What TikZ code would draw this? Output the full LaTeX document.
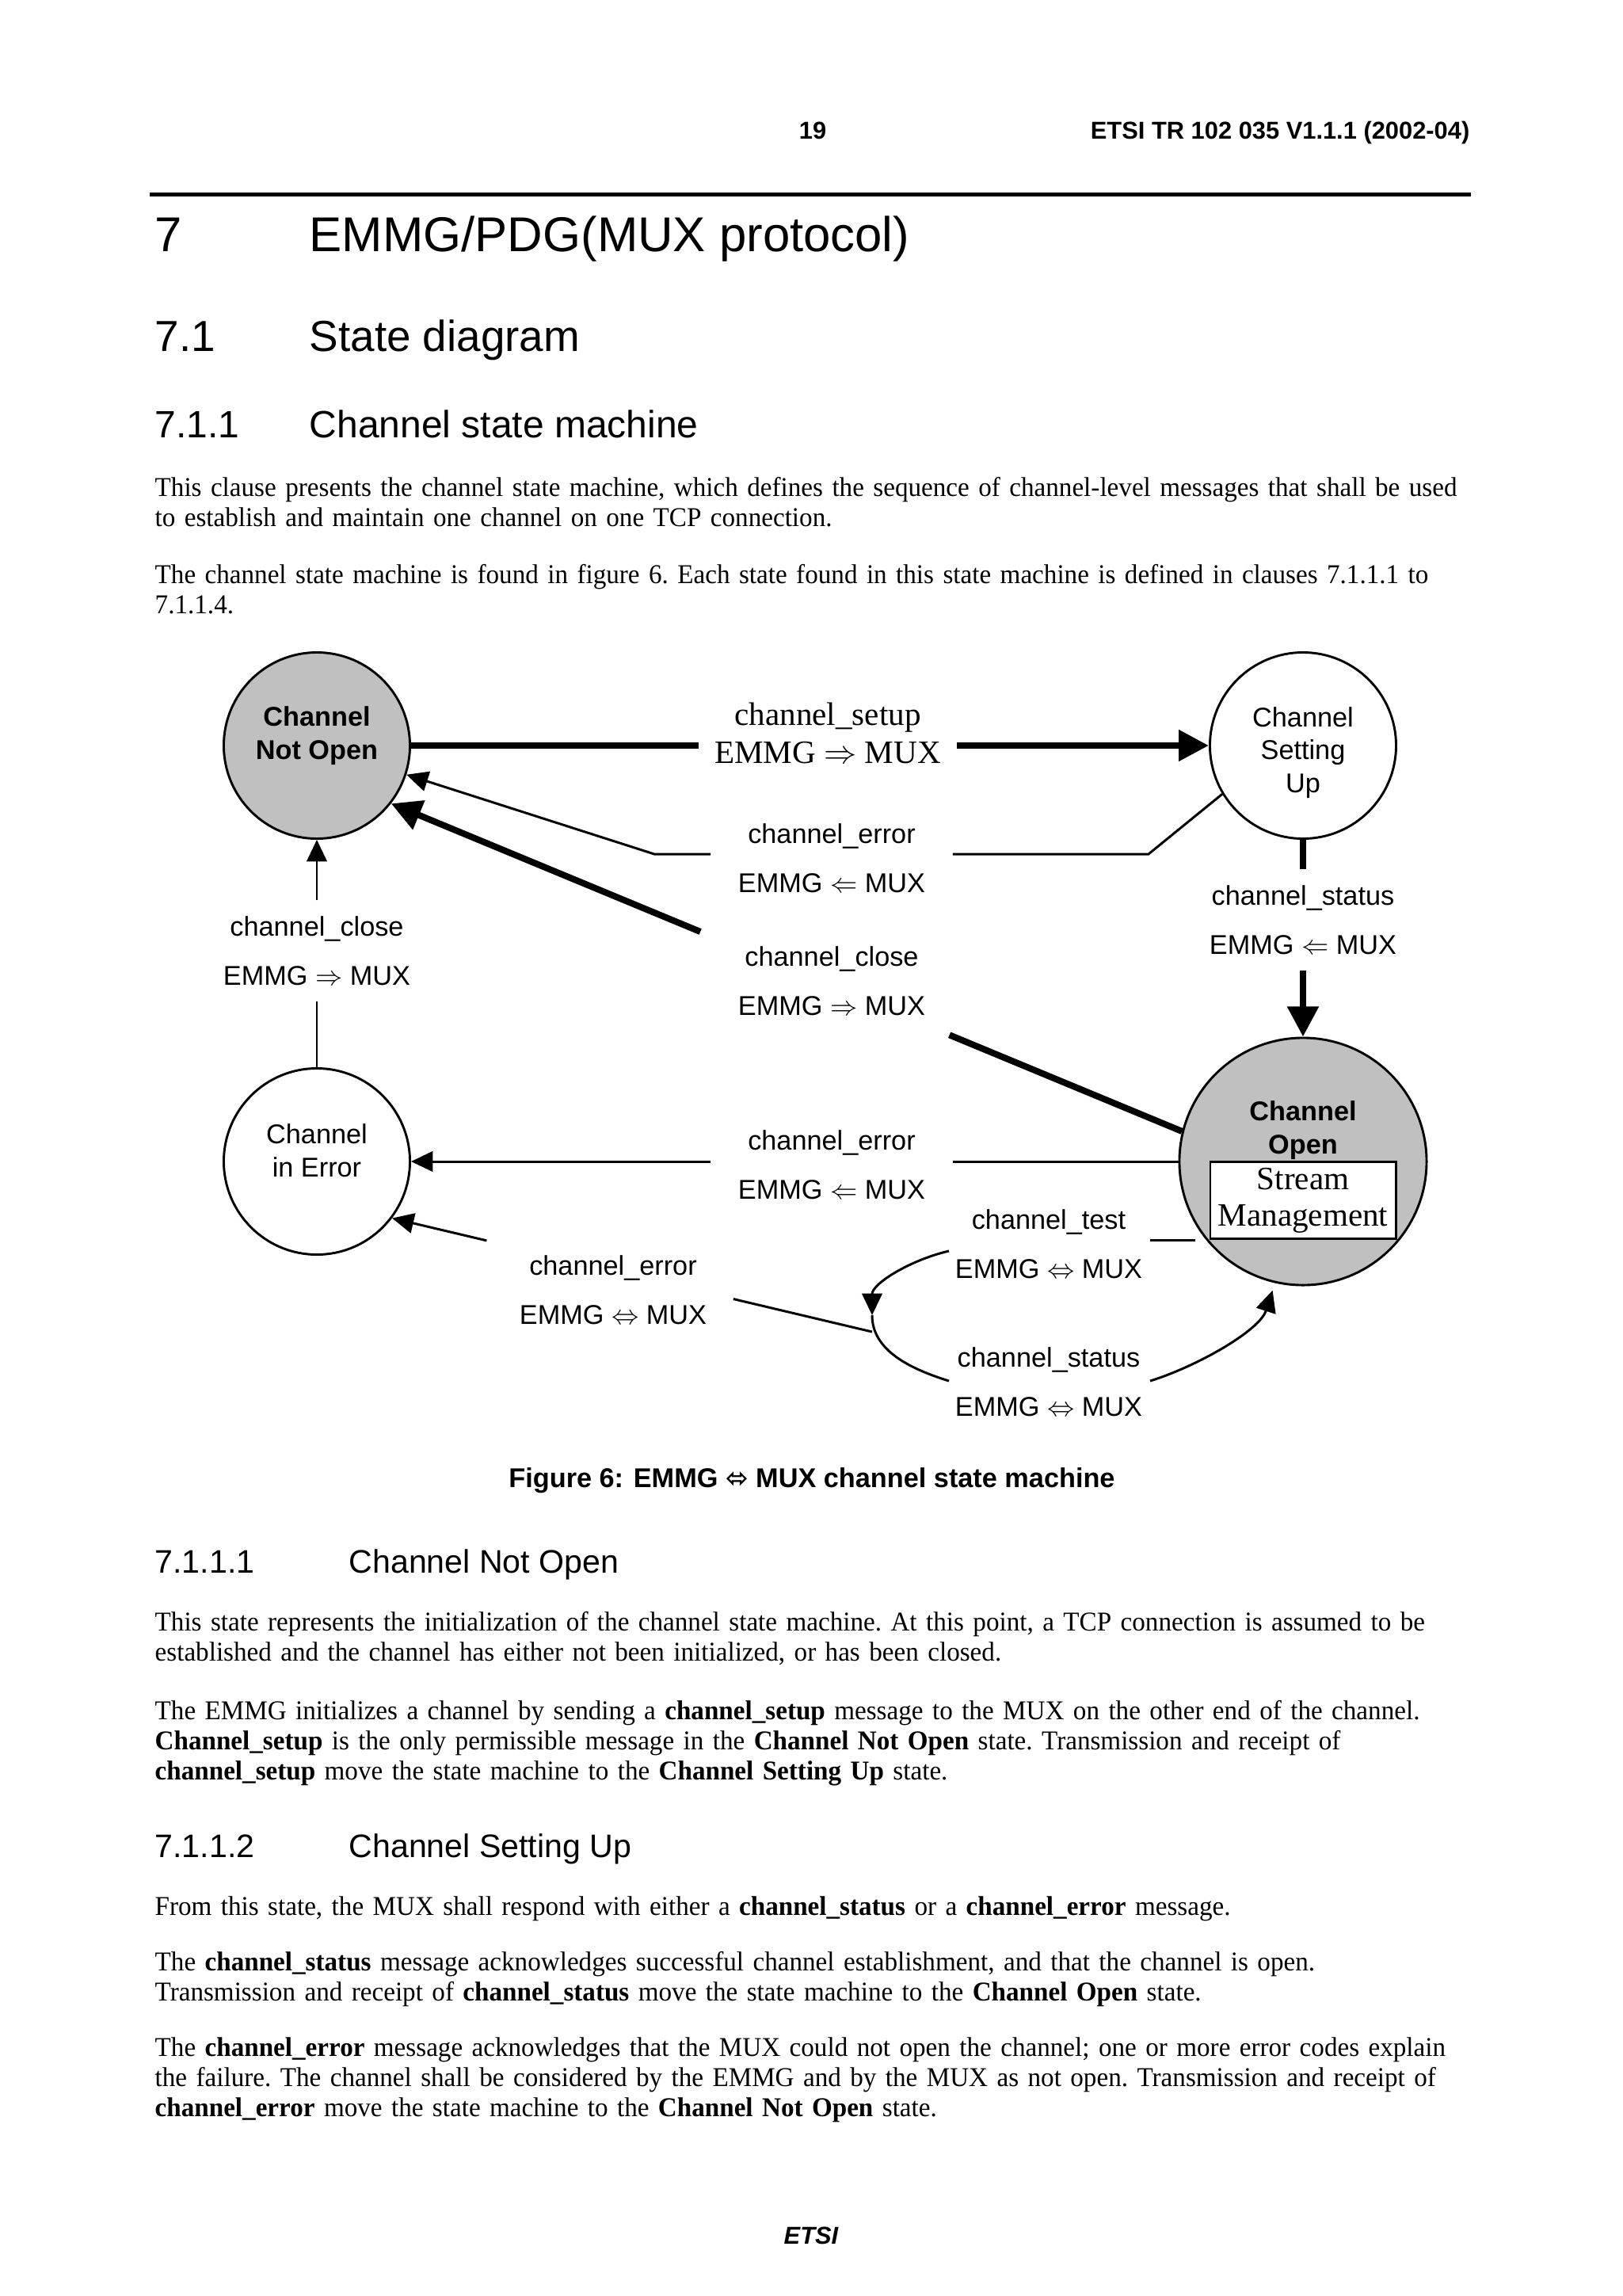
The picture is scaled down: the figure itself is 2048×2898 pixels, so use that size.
\documentclass[tikz,border=0pt]{standalone}
\usepackage{amsmath}
\usepackage{fontspec}
\setmainfont{Liberation Serif}
\setsansfont{Liberation Sans}
\newfontfamily\bodyfont[FakeStretch=0.967]{Liberation Serif}
\newfontfamily\arrowfont{DejaVu Sans}
\usepackage{tikz}
\usetikzlibrary{arrows.meta,calc,positioning}
\definecolor{stategray}{RGB}{192,192,192}

\begin{document}
\begin{tikzpicture}[x=0.10254mm,y=-0.10254mm]
	\def \leftmargin{195}
	\def \headx{390}
	\def \subheadx{440}
	\tikzstyle{s-node}=[circle,draw,line width=0.85pt,minimum size=24.1mm,inner sep=0pt]
	\tikzstyle{o-node}=[s-node,minimum size=32mm]
	\tikzstyle{n-node}=[font=\sffamily\fontsize{10}{12.2}\selectfont,align=center,inner sep=0pt]
	\tikzstyle{nb-node}=[n-node,font=\sffamily\bfseries\fontsize{10}{12.2}\selectfont]
	\tikzstyle{m-node}=[font=\sffamily\fontsize{10}{18}\selectfont,align=center,inner xsep=3.5mm,inner ysep=2mm]
	\tikzstyle{mt-node}=[font=\fontsize{12}{14}\selectfont,align=center,inner xsep=2mm,inner ysep=1mm]
	\tikzstyle{thin-line}=[line width=0.87pt]
	\tikzstyle{thick-line}=[line width=2.35pt]
	\tikzstyle{thin-arr}=[thin-line,-{Triangle[length=2.8mm,width=2.6mm]}]
	\tikzstyle{thick-arr}=[thick-line,-{Triangle[length=3.9mm,width=3.9mm]}]
	\tikzstyle{head}=[anchor=base west,inner sep=0pt]
	\tikzstyle{body}=[anchor=base west,inner sep=0pt,text width=178mm,align=left,font=\bodyfont\frenchspacing\fontsize{10}{11.2}\selectfont]
	% page
	\path[fill=white,use as bounding box] (0,0) rectangle (2048,2898);

	% running header
	\node[anchor=base,inner sep=0pt,font=\sffamily\bfseries\fontsize{9}{11}\selectfont] (pageno) at (1026,175) {19};
	\node[anchor=base east,inner sep=0pt,font=\sffamily\bfseries\fontsize{9}{11}\selectfont] (docref) at (1856,175) {ETSI TR 102 035 V1.1.1 (2002-04)};
	\coordinate (ruleL) at (189,245.5);
	\coordinate (ruleR) at (1857,245.5);
	\draw[line width=1.6pt] (ruleL) -- (ruleR);

	% headings
	\node[head,font=\sffamily\fontsize{18}{22}\selectfont] (h1num) at (\leftmargin,317) {7};
	\node[head,font=\sffamily\fontsize{18}{22}\selectfont] (h1txt) at (\headx,317) {EMMG/PDG(MUX protocol)};
	\node[head,font=\sffamily\fontsize{16}{19}\selectfont] (h2num) at (\leftmargin,443) {7.1};
	\node[head,font=\sffamily\fontsize{16}{19}\selectfont] (h2txt) at (\headx,443) {State diagram};
	\node[head,font=\sffamily\fontsize{14}{17}\selectfont] (h3num) at (\leftmargin,552) {7.1.1};
	\node[head,font=\sffamily\fontsize{14}{17}\selectfont] (h3txt) at (\headx,552) {Channel state machine};

	% text before the figure
	\node[body] (para1) at (\leftmargin,626) {This clause presents the channel state machine, which defines the sequence of channel-level messages that shall be used\\
		to establish and maintain one channel on one TCP connection.};
	\node[body] (para2) at (\leftmargin,736) {The channel state machine is found in figure 6. Each state found in this state machine is defined in clauses 7.1.1.1 to\\
		7.1.1.4.};

	% states
	\node[s-node,fill=stategray] 	(cno)	at (400,941)	{};
	\node[s-node] 			(csu)	at (1645,941)	{};
	\node[s-node] 			(cie)	at (400,1466)	{};
	\node[o-node,fill=stategray] 	(co)	at (1645,1466)	{};
	\node[nb-node]	(cnotxt)	at (400,929)	{Channel\\Not Open};
	\node[n-node]	(csutxt)	at (1645,950)	{Channel\\Setting\\Up};
	\node[n-node]	(cietxt)	at (400,1452)	{Channel\\in Error};
	\node[nb-node]	(cotxt)	at (1645,1427)	{Channel\\Open};
	\node[draw,fill=white,line width=0.85pt,minimum width=24mm,minimum height=9.95mm,inner sep=0.5mm,align=center,font=\fontsize{12}{13.4}\selectfont] (stream) at (1645,1515) {Stream\\Management};

	% messages
	\node[mt-node]	(lsetup)	at (1045,925)	{channel\_setup\\EMMG $\Rightarrow$ MUX};
	\node[m-node]	(lerr1)	at (1050,1083)	{channel\_error\\EMMG $\Leftarrow$ MUX};
	\node[m-node]	(lclose1)	at (1050,1238)	{channel\_close\\EMMG $\Rightarrow$ MUX};
	\node[m-node]	(lerr2)	at (1050,1470)	{channel\_error\\EMMG $\Leftarrow$ MUX};
	\node[m-node]	(lclose2)	at (400,1200)	{channel\_close\\EMMG $\Rightarrow$ MUX};
	\node[m-node]	(lstat1)	at (1645,1161)	{channel\_status\\EMMG $\Leftarrow$ MUX};
	\node[m-node]	(lerr3)	at (774,1628)	{channel\_error\\EMMG $\Leftrightarrow$ MUX};
	\node[m-node]	(ltest)	at (1324,1570)	{channel\_test\\EMMG $\Leftrightarrow$ MUX};
	\node[m-node]	(lstat2)	at (1324,1744)	{channel\_status\\EMMG $\Leftrightarrow$ MUX};

	% bends of the thin connectors
	\coordinate (e1up) at (1450,1078);
	\coordinate (e1dn) at (826,1078);
	\coordinate (tbeg) at (1198,1579);
	\coordinate (tip) at (1101,1660);
	\coordinate (sbeg) at (1198,1743);
	\coordinate (send) at (1452,1743);
	\coordinate (junct) at (1101,1681);

	% channel_setup
	\draw[thick-line] (cno.east) -- (cno.east -| lsetup.west);
	\draw[thick-arr] (lsetup.east |- csu.west) -- (csu.west);
	% channel_error from setting up
	\draw[thin-line] (csu.-149) -- (e1up) -- (e1up -| lerr1.east);
	\draw[thin-arr] (lerr1.west |- e1dn) -- (e1dn) -- (cno.-18);
	% channel_close from open
	\draw[thick-line] (co.166) -- ($(co.166)!0.294!(cno.-38)$);
	\draw[thick-arr] ($(co.166)!0.609!(cno.-38)$) -- (cno.-38);
	% channel_close from error
	\draw[thin-line] (cie.north) -- (lclose2.south);
	\draw[thin-arr] (lclose2.north) -- (cno.south);
	% channel_status from setting up
	\draw[thick-line] (csu.south) -- (lstat1.north);
	\draw[thick-arr] (lstat1.south) -- (co.north);
	% channel_error from open
	\draw[thin-line] (co.west) -- (co.west -| lerr2.east);
	\draw[thin-arr] (lerr2.west |- cie.east) -- (cie.east);
	% channel_test / channel_status loop
	\draw[thin-line,shorten <=1.4mm] (co.-141.5) -- (send |- co.-141.5);
	\draw[thin-arr] (tbeg) .. controls (1150,1590) and (1101,1620) .. (tip);
	\draw[thin-line] (tip) .. controls (1101,1705) and (1150,1728) .. (sbeg);
	\draw[thin-arr,shorten >=1mm] (send) .. controls (1510,1725) and (1590,1680) .. (co.-103);
	% channel_error from the loop
	\draw[thin-line] (junct) -- ($(junct)!0.289!(cie.-37.5)$);
	\draw[thin-arr] ($(junct)!0.803!(cie.-37.5)$) -- (cie.-37.5);

	% caption
	\node[anchor=base,inner sep=0pt,font=\sffamily\bfseries\fontsize{10}{12}\selectfont] (caption) at (1025,1877) {Figure 6: EMMG {\arrowfont ⬄} MUX channel state machine};

	% 7.1.1.1
	\node[head,font=\sffamily\fontsize{12}{14}\selectfont] (h4num) at (\leftmargin,1985) {7.1.1.1};
	\node[head,font=\sffamily\fontsize{12}{14}\selectfont] (h4txt) at (\subheadx,1985) {Channel Not Open};
	\node[body] (para3) at (\leftmargin,2058) {This state represents the initialization of the channel state machine. At this point, a TCP connection is assumed to be\\
		established and the channel has either not been initialized, or has been closed.};
	\node[body] (para4) at (\leftmargin,2170) {The EMMG initializes a channel by sending a \textbf{channel\_setup} message to the MUX on the other end of the channel.\\
		\textbf{Channel\_setup} is the only permissible message in the \textbf{Channel Not Open} state. Transmission and receipt of\\
		\textbf{channel\_setup} move the state machine to the \textbf{Channel Setting Up} state.};

	% 7.1.1.2
	\node[head,font=\sffamily\fontsize{12}{14}\selectfont] (h5num) at (\leftmargin,2344) {7.1.1.2};
	\node[head,font=\sffamily\fontsize{12}{14}\selectfont] (h5txt) at (\subheadx,2344) {Channel Setting Up};
	\node[body] (para5) at (\leftmargin,2417) {From this state, the MUX shall respond with either a \textbf{channel\_status} or a \textbf{channel\_error} message.};
	\node[body] (para6) at (\leftmargin,2487) {The \textbf{channel\_status} message acknowledges successful channel establishment, and that the channel is open.\\
		Transmission and receipt of \textbf{channel\_status} move the state machine to the \textbf{Channel Open} state.};
	\node[body] (para7) at (\leftmargin,2595) {The \textbf{channel\_error} message acknowledges that the MUX could not open the channel; one or more error codes explain\\
		the failure. The channel shall be considered by the EMMG and by the MUX as not open. Transmission and receipt of\\
		\textbf{channel\_error} move the state machine to the \textbf{Channel Not Open} state.};

	% running footer
	\node[anchor=base,inner sep=0pt,font=\sffamily\bfseries\itshape\fontsize{9}{11}\selectfont] (footer) at (1024,2832) {ETSI};
\end{tikzpicture}
\end{document}
